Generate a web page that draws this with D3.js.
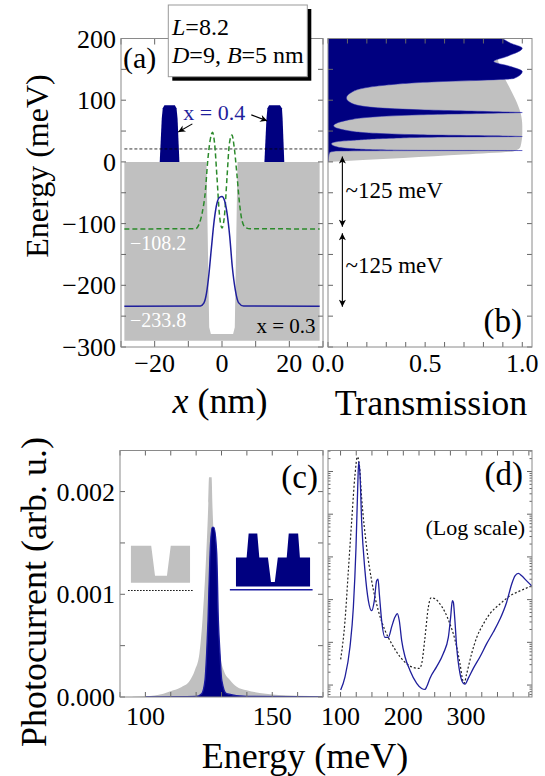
<!DOCTYPE html>
<html><head><meta charset="utf-8">
<script src="https://cdn.jsdelivr.net/npm/d3@7"></script>
<style>body{margin:0;background:#fff}</style>
</head><body><svg id="c" width="545" height="776"></svg>
<script>
// ---------- DATA ----------
// Panel (a): potential profiles (x in nm, E in meV)
const wellProfile = [[-29,0],[-4.6,0],[-3.8,-268],[-3.3,-279],[3.3,-279],[3.8,-268],[4.6,0],[29,0],[29,-290],[-29,-290]];
const barrierLeft = [[-18.5,0],[-17.9,70],[-17.6,87],[-17.1,92],[-14.0,92],[-13.5,87],[-13.2,70],[-12.65,0]];
const barrierRight = [[12.6,0],[13.2,70],[13.5,87],[14.0,92],[17.2,92],[17.8,87],[18.0,70],[18.5,0]];
const fermiLevel = 21;
const psiX04 = [[-29,-108.6],[-7.9,-108.4],[-6.9,-102],[-5.9,-83],[-4.9,-45],[-4.3,-2],[-3.5,35.7],[-2.8,48],[-2.2,30],[-1.5,-24],[-0.8,-83],[0,-107],[0.8,-83],[1.5,-24],[2.2,30],[2.96,43.8],[3.6,24.8],[4.4,-18.4],[5.2,-67],[5.9,-94],[6.9,-106],[8.4,-108.4],[29,-108.6]];
const psiX03 = [[-29,-233.8],[-6.4,-233.5],[-5.4,-229],[-4.6,-212.8],[-3.96,-185.8],[-3.2,-142.6],[-2.3,-94],[-1.5,-67],[-0.7,-57.3],[0,-56],[0.7,-61.6],[1.5,-83],[2.3,-121],[3.05,-169.6],[3.95,-207.5],[4.9,-228],[6.4,-233.5],[29,-233.8]];
const levelLabels = ["\u2212108.2","\u2212233.8"];

// Panel (b): transmission vs energy
const energyGray = [0,3,6.5,11.9,17.3,25,47,58,79.5,101,122.6,144,166,187.5,201];
const transGray  = [0,0.18,0.388,0.698,0.957,0.991,1.0,1.0,0.991,0.965,0.931,0.896,0.874,0.862,0.853];
const energyBlue = [0,15,17.5,18.1,18.4,18.8,19.4,21.3,24,29.4,33,35,38,40.3,41.1,42.0,43.9,49.3,58.5,69.3,76.3,79.2,80.0,81.0,84.5,88.8,95.3,103.4,114.2,124.5,129.9,132.6,135.3,146.5,154.6,162.7,170.8,184.3,192.4,200.5];
const transBlue  = [0,0.008,0.04,0.2,1.0,0.45,0.3,0.129,0.05,0.017,0.05,0.129,0.3,0.6,1.0,0.9,0.474,0.129,0.029,0.129,0.474,0.9,1.0,0.9,0.474,0.216,0.12,0.095,0.129,0.302,0.56,0.819,0.957,1.0,0.94,0.853,0.92,1.0,0.94,0.896];
const spacingArrows = [[8.6,-105],[-115.7,-234.6]];
const spacingLabel = "~125 meV";

// Panel (c): photocurrent (linear)
const pcEnergyGray = [95,100,107.1,111,114.3,117.6,119.5,121.3,122.5,124,124.8,125.1,126.1,126.4,127.3,128.4,129.4,131,133.4,136,139.9,145,150,160,170];
const pcGray       = [0.000003,0.000008,0.0000326,0.000065,0.0000977,0.000163,0.00026,0.000423,0.00075,0.0014,0.00189,0.00214,0.00214,0.00189,0.0014,0.00075,0.000423,0.00025,0.000163,0.0001,0.000065,0.00004,0.000025,0.000012,0.000006];
const pcEnergyBlue = [100,120,122.2,123.5,124.15,124.7,125.5,126.3,127.0,128.1,128.75,129.4,130.1,132,140,170];
const pcBlue       = [0,0.000005,0.0000326,0.000163,0.000423,0.00075,0.0014,0.00165,0.00165,0.0014,0.00075,0.000423,0.000163,0.0000326,0.000005,0];
// inset sketches drawn in (c) data units
const insetGray = [[94.3,0.001112],[94.3,0.001473],[102.3,0.001473],[103.8,0.00118],[108.5,0.00118],[110,0.001473],[117.6,0.001473],[117.6,0.001112]];
const insetGrayLine = [[93.2,0.001037],[118.8,0.001037]];
const insetBlue = [[135.7,0.001076],[135.7,0.001359],[139.9,0.001359],[140.7,0.001593],[144.1,0.001593],[144.9,0.001359],[148.3,0.001359],[149.5,0.001119],[151.0,0.001119],[152.2,0.001359],[155.7,0.001359],[156.5,0.001593],[160.2,0.001593],[160.9,0.001359],[164.9,0.001359],[164.9,0.001076]];
const insetBlueLine = [[133.3,0.001044],[165.9,0.001044]];

// Panel (d): photocurrent (log)
const logEnergyBlue = [100.2,107.1,115.0,120.4,124.6,127.3,128.9,131.0,133.6,138.9,144.3,149.6,153.8,157.5,159.7,161.8,165.5,170.8,176.1,181.4,186.7,190.5,193.6,197.4,202.7,210.6,221.3,229.2,234.5,237.2,242.5,253.1,263.7,271.7,275.4,278.1,279.7,281.8,285.0,290.3,295.6,298.3,303.6,311.5,322.2,332.8,343.4,354.0,364.6,372.6,377.9,383.2,388.6,396.5,404.5];
const logBlue = [7.66e-7,1.56e-6,7.76e-6,6.6e-5,1.66e-3,0.0407,0.17,0.083,6.9e-3,4.7e-4,9.5e-5,5.5e-5,9.5e-5,2.75e-4,3.0e-4,1.35e-4,3.2e-5,1.3e-5,1.3e-5,2.3e-5,3.9e-5,4.7e-5,3.2e-5,1.1e-5,4.6e-6,2.2e-6,1.1e-6,8.3e-7,7.9e-7,9.1e-7,1.45e-6,2.7e-6,5.5e-6,1.3e-5,3.9e-5,9.5e-5,8.7e-5,3.9e-5,7.8e-6,1.86e-6,1.1e-6,1.05e-6,1.45e-6,2.45e-6,4.6e-6,9.3e-6,1.74e-5,3.5e-5,8.7e-5,2.3e-4,3.6e-4,4.1e-4,3.6e-4,2.75e-4,2.1e-4];
const logEnergyDot = [100.2,107.1,112.4,117.7,123.0,126.7,129.9,133.6,141.6,149.6,160.2,170.8,181.4,194.7,205.3,215.9,225.5,229.2,234.5,239.8,244.1,250.4,258.4,266.4,274.3,279.7,285.0,290.3,294.6,296.7,301.0,308.9,316.9,327.5,338.1,354.0,370.0,385.9,404.5];
const logDot = [4.0e-6,3.2e-5,4.7e-4,6.9e-3,0.083,0.22,0.145,0.024,1.66e-3,2.75e-4,5.5e-5,1.9e-5,9.3e-6,4.6e-6,3.16e-6,2.57e-6,2.45e-6,3.16e-6,1.3e-5,6.6e-5,1.1e-4,1.05e-4,7.9e-5,5.1e-5,2.7e-5,1.58e-5,7.8e-6,3.16e-6,1.3e-6,1.1e-6,1.86e-6,5.5e-6,1.3e-5,2.7e-5,4.7e-5,7.9e-5,1.23e-4,1.6e-4,2.1e-4];

// tick values
const ticksA_y = [-300,-200,-100,0,100,200];
const ticksA_x = [-20,0,20];
const ticksB_x = [0,0.5,1.0];
const ticksC_y = [0,0.001,0.002];
const ticksC_x = [100,150];
const ticksD_x = [100,200,300];

// ---------- LAYOUT ----------
const FONT = "'Liberation Serif', 'Tinos', 'Times New Roman', 'DejaVu Serif', serif";
const svg = d3.select('#c').attr('font-family',FONT);
const A = {l:121, r:323, t:38.5, b:347};
const B = {l:328, r:532, t:38.5, b:347};
const C = {l:120, r:323, t:450.5, b:697};
const D = {l:328, r:532, t:450.5, b:697};
const NAVY = '#000080', GRAY = '#c0c0c0', LBLUE = '#1f1f9c', GREEN = '#2b8a2b';

const xA = d3.scaleLinear([-30,30],[A.l,A.r]);
const yE = d3.scaleLinear([-300,200],[A.b,A.t]);
const xB = d3.scaleLinear([0,1.05],[B.l,B.r]);
const xC = d3.scaleLinear([90,170],[C.l,C.r]);
const yC = d3.scaleLinear([0,0.0024],[C.b,C.t]);
const xD = d3.scaleLinear([80,405],[D.l,D.r]);
const yD = d3.scaleLog([5.25e-7,0.31],[D.b,D.t]);

const defs = svg.append('defs');
[['ca',A],['cb',B],['cc',C],['cd',D]].forEach(([id,P])=>{
  defs.append('clipPath').attr('id',id).append('rect').attr('x',P.l).attr('y',P.t).attr('width',P.r-P.l).attr('height',P.b-P.t);
});
defs.append('marker').attr('id','ah').attr('viewBox','0 0 10 10').attr('refX',10).attr('refY',5)
  .attr('markerWidth',9).attr('markerHeight',7).attr('markerUnits','userSpaceOnUse').attr('orient','auto-start-reverse')
  .append('path').attr('d','M0,0 L10,5 L0,10 L3,5 Z').attr('fill','#000');
defs.append('marker').attr('id','ah2').attr('viewBox','0 0 10 10').attr('refX',10).attr('refY',5)
  .attr('markerWidth',11).attr('markerHeight',7).attr('markerUnits','userSpaceOnUse').attr('orient','auto-start-reverse')
  .append('path').attr('d','M0,0 L10,5 L0,10 L2.5,5 Z').attr('fill','#000');

function txt(g,x,y,s,size,opts={}){
  const t = g.append('text').attr('x',x).attr('y',y).attr('font-size',size).attr('fill',opts.fill||'#000')
    .attr('font-family',FONT).attr('text-anchor',opts.anchor||'start');
  if(opts.rot) t.attr('transform',`rotate(-90,${x},${y})`);
  if(opts.html) t.html(s); else t.text(s);
  return t;
}
function frame(P){
  svg.append('rect').attr('x',P.l).attr('y',P.t).attr('width',P.r-P.l).attr('height',P.b-P.t)
    .attr('fill','none').attr('stroke','#8a8a8a').attr('stroke-width',1);
}
function xticks(P,sc,vals,len){
  const g=svg.append('g').attr('stroke','#666').attr('stroke-width',1);
  vals.forEach(v=>{const p=sc(v);
    g.append('line').attr('x1',p).attr('x2',p).attr('y1',P.b).attr('y2',P.b-len);
    g.append('line').attr('x1',p).attr('x2',p).attr('y1',P.t).attr('y2',P.t+len);});
}
function yticks(P,sc,vals,len){
  const g=svg.append('g').attr('stroke','#666').attr('stroke-width',1);
  vals.forEach(v=>{const p=sc(v);
    g.append('line').attr('y1',p).attr('y2',p).attr('x1',P.l).attr('x2',P.l+len);
    g.append('line').attr('y1',p).attr('y2',p).attr('x1',P.r).attr('x2',P.r-len);});
}
const TICK=26;

// ---------- PANEL (a) ----------
const ga = svg.append('g').attr('clip-path','url(#ca)');
const lineA = d3.line().x(d=>xA(d[0])).y(d=>yE(d[1]));
ga.append('path').attr('d',lineA(wellProfile)+'Z').attr('fill',GRAY);
ga.append('path').attr('d',lineA(barrierLeft)+'Z').attr('fill',NAVY);
ga.append('path').attr('d',lineA(barrierRight)+'Z').attr('fill',NAVY);
ga.append('line').attr('x1',xA(-29)).attr('x2',xA(30)).attr('y1',yE(fermiLevel)).attr('y2',yE(fermiLevel))
  .attr('stroke','#000').attr('stroke-width',0.8).attr('stroke-dasharray','3,2');
const smoothA = d3.line().x(d=>xA(d[0])).y(d=>yE(d[1])).curve(d3.curveMonotoneX);
ga.append('path').attr('d',smoothA(psiX04)).attr('fill','none').attr('stroke',GREEN).attr('stroke-width',1.5).attr('stroke-dasharray','5,3');
ga.append('path').attr('d',smoothA(psiX03)).attr('fill','none').attr('stroke',LBLUE).attr('stroke-width',1.5);
txt(svg,xA(-27.3),yE(-142.7),levelLabels[0],20,{fill:'#fff'});
txt(svg,xA(-27.3),yE(-267.6),levelLabels[1],20,{fill:'#fff'});
txt(svg,xA(27.8),yE(-277.3),'x = 0.3',21,{anchor:'end'});
txt(svg,xA(-11.5),yE(68),'x = 0.4',22,{fill:'#1f1f9c'});
svg.append('line').attr('x1',xA(-8.8)).attr('y1',yE(61.6)).attr('x2',xA(-13.0)).attr('y2',yE(48.6))
  .attr('stroke','#000').attr('stroke-width',1.1).attr('marker-end','url(#ah)');
svg.append('line').attr('x1',xA(8.7)).attr('y1',yE(76.2)).attr('x2',xA(13.4)).attr('y2',yE(66.5))
  .attr('stroke','#000').attr('stroke-width',1.1).attr('marker-end','url(#ah)');
txt(svg,123,68,'(a)',30);

xticks(A,xA,[-30,-20,-10,0,10,20,30],6);
yticks(A,yE,d3.range(-300,201,50),5);
frame(A);
ticksA_y.forEach(v=>txt(svg,116,yE(v)+9,(v<0?'\u2212':'')+Math.abs(v),TICK,{anchor:'end'}));
ticksA_x.forEach(v=>txt(svg,xA(v),372,(v<0?'\u2212':'')+Math.abs(v),TICK,{anchor:'middle'}));

// legend box
svg.append('rect').attr('x',172.3).attr('y',9).attr('width',139).attr('height',71.7).attr('fill','#000');
svg.append('rect').attr('x',168.3).attr('y',5).attr('width',139).attr('height',71.7).attr('fill','#fff').attr('stroke','#999').attr('stroke-width',1);
txt(svg,172,35,'<tspan font-style="italic">L</tspan>=8.2',24,{html:true});
txt(svg,172,63,'<tspan font-style="italic">D</tspan>=9, <tspan font-style="italic">B</tspan>=5 nm',24,{html:true});

// ---------- PANEL (b) ----------
const gb = svg.append('g').attr('clip-path','url(#cb)');
const grayPts = energyGray.map((e,i)=>[e,transGray[i]]);
const bluePts = energyBlue.map((e,i)=>[e,transBlue[i]]);
const areaB = d3.area().y(d=>yE(d[0])).x0(xB(0)).x1(d=>xB(d[1])).curve(d3.curveMonotoneY);
gb.append('path').attr('d',areaB(grayPts)).attr('fill',GRAY);
gb.append('path').attr('d',areaB(bluePts)).attr('fill',NAVY).attr('stroke','#2a2ab0').attr('stroke-width',0.5);
spacingArrows.forEach(a=>{
  svg.append('line').attr('x1',xB(0.074)).attr('x2',xB(0.074)).attr('y1',yE(a[0])).attr('y2',yE(a[1]))
    .attr('stroke','#000').attr('stroke-width',1.1).attr('marker-start','url(#ah2)').attr('marker-end','url(#ah2)');
});
txt(svg,xB(0.09),yE(-59),spacingLabel,23);
txt(svg,xB(0.09),yE(-180.5),spacingLabel,23);
txt(svg,522,331.7,'(b)',33,{anchor:'end'});
xticks(B,xB,d3.range(0,1.05,0.1),5);
yticks(B,yE,d3.range(-300,201,50),5);
frame(B);
ticksB_x.forEach(v=>txt(svg,xB(v),372,v.toFixed(1),TICK,{anchor:'middle'}));

// ---------- PANEL (c) ----------
const gc = svg.append('g').attr('clip-path','url(#cc)');
const areaC = d3.area().x(d=>xC(d[0])).y0(yC(0)).y1(d=>yC(d[1])).curve(d3.curveMonotoneX);
const lineCS = d3.line().x(d=>xC(d[0])).y(d=>yC(d[1])).curve(d3.curveMonotoneX);
gc.append('path').attr('d',areaC(pcEnergyGray.map((e,i)=>[e,pcGray[i]]))).attr('fill',GRAY);
const blueC = pcEnergyBlue.map((e,i)=>[e,pcBlue[i]]);
gc.append('path').attr('d',areaC(blueC)).attr('fill',NAVY);
gc.append('path').attr('d',lineCS(blueC)).attr('fill','none').attr('stroke','#1a1aa0').attr('stroke-width',1.4);
const lineCL = d3.line().x(d=>xC(d[0])).y(d=>yC(d[1]));
gc.append('path').attr('d',lineCL(insetGray)+'Z').attr('fill',GRAY);
gc.append('path').attr('d',lineCL(insetGrayLine)).attr('stroke','#000').attr('stroke-width',1).attr('stroke-dasharray','1.5,1.5');
gc.append('path').attr('d',lineCL(insetBlue)+'Z').attr('fill',NAVY);
gc.append('path').attr('d',lineCL(insetBlueLine)).attr('stroke','#1a1aa0').attr('stroke-width',1.5);
txt(svg,318,488,'(c)',33,{anchor:'end'});
xticks(C,xC,d3.range(90,171,10),5);
yticks(C,yC,d3.range(0,0.00241,0.0005),5);
frame(C);
ticksC_y.forEach(v=>txt(svg,115,yC(v)+9,v.toFixed(3),TICK,{anchor:'end'}));
ticksC_x.forEach(v=>txt(svg,xC(v),725,String(v),TICK,{anchor:'middle'}));

// ---------- PANEL (d) ----------
const gd = svg.append('g').attr('clip-path','url(#cd)');
const lineD = d3.line().x(d=>xD(d[0])).y(d=>yD(d[1])).curve(d3.curveMonotoneX);
gd.append('path').attr('d',lineD(logEnergyDot.map((e,i)=>[e,logDot[i]]))).attr('fill','none').attr('stroke','#222').attr('stroke-width',1.2).attr('stroke-dasharray','2,2');
gd.append('path').attr('d',lineD(logEnergyBlue.map((e,i)=>[e,logBlue[i]]))).attr('fill','none').attr('stroke',LBLUE).attr('stroke-width',1.3);
txt(svg,523,485,'(d)',33,{anchor:'end'});
txt(svg,525,535,'(Log scale)',22,{anchor:'end'});
xticks(D,xD,d3.range(100,401,25),5);
const majorD = [1e-6,1e-5,1e-4,1e-3,1e-2,1e-1];
const minorD = [];
[1e-7,1e-6,1e-5,1e-4,1e-3,1e-2,1e-1].forEach(b=>{for(let k=2;k<=9;k++){const v=k*b; if(v>5.25e-7&&v<0.31) minorD.push(v);}});
yticks(D,yD,majorD,5);
yticks(D,yD,minorD,2.5);
frame(D);
ticksD_x.forEach(v=>txt(svg,xD(v),725,String(v),TICK,{anchor:'middle'}));

// ---------- AXIS TITLES ----------
txt(svg,48,166,'Energy (meV)',32,{anchor:'middle',rot:true});
txt(svg,220,413,'<tspan font-style="italic">x</tspan> (nm)',36,{anchor:'middle',html:true});
txt(svg,431,415,'Transmission',36,{anchor:'middle'});
txt(svg,46,592,'Photocurrent (arb. u.)',36,{anchor:'middle',rot:true});
txt(svg,305,768,'Energy (meV)',36,{anchor:'middle'});
</script></body></html>
